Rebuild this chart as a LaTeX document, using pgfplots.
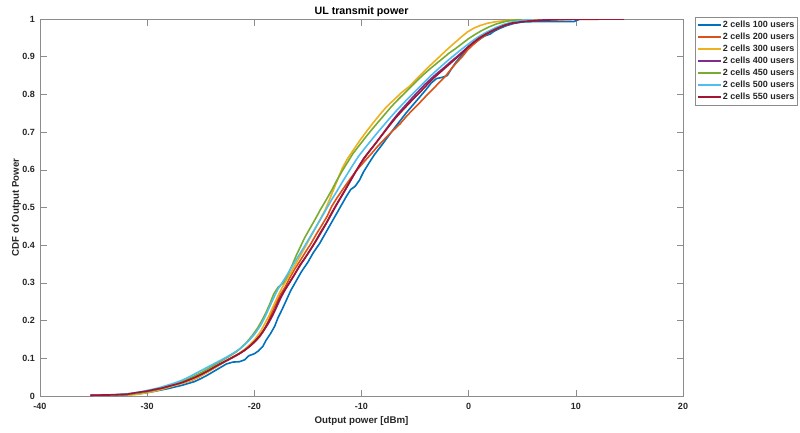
\documentclass[border=0pt]{standalone}
\usepackage{pgfplots}
\pgfplotsset{compat=1.18}
\usepackage{fontspec}
\setmainfont{Liberation Sans}
\definecolor{axgray}{HTML}{8C8C8C}
\definecolor{txt}{HTML}{262626}
\definecolor{c1}{rgb}{0,0.447,0.741}
\definecolor{c2}{rgb}{0.85,0.325,0.098}
\definecolor{c3}{rgb}{0.929,0.694,0.125}
\definecolor{c4}{rgb}{0.494,0.184,0.556}
\definecolor{c5}{rgb}{0.466,0.674,0.188}
\definecolor{c6}{rgb}{0.301,0.745,0.933}
\definecolor{c7}{rgb}{0.635,0.078,0.184}
\begin{document}
\begin{tikzpicture}
\useasboundingbox (-40pt,-36pt) rectangle (760pt,396pt);
\begin{axis}[
  scale only axis, width=643pt, height=377pt,
  xmin=-40, xmax=20, ymin=0, ymax=1,
  xtick={-40,-30,-20,-10,0,10,20},
  xticklabels={-40,-30,-20,-10,0,10,20},
  ytick={0,0.1,0.2,0.3,0.4,0.5,0.6,0.7,0.8,0.9,1},
  yticklabels={0,0.1,0.2,0.3,0.4,0.5,0.6,0.7,0.8,0.9,1},
  tick align=inside, major tick length=6.5pt,
  axis line style={axgray, line width=0.6pt},
  tick style={axgray, line width=0.6pt},
  every tick label/.append style={font=\fontsize{9}{11}\selectfont\bfseries, text=txt},
  xticklabel style={yshift=-4pt},
  yticklabel style={xshift=-1.5pt},
  title={UL transmit power},
  title style={at={(axis description cs:0.5,1)}, anchor=base, yshift=-1.5pt, font=\fontsize{10.7}{12}\selectfont\bfseries},
  xlabel={Output power [dBm]},
  xlabel style={at={(axis description cs:0.5,0)}, anchor=base, yshift=-27.5pt, font=\fontsize{9.7}{11}\selectfont\bfseries, text=txt},
  ylabel={CDF of Output Power},
  ylabel style={at={(axis description cs:-0.0327,0.5)}, anchor=base, font=\fontsize{9.7}{11}\selectfont\bfseries, text=txt},
  legend style={at={(axis description cs:1.0187,1.0053)}, anchor=north west, draw=axgray,
    font=\fontsize{9}{11}\selectfont\bfseries, inner xsep=2pt, inner ysep=2pt, row sep=0pt,
    nodes={inner xsep=1pt, inner ysep=1pt, text height=7pt, text depth=3pt, text=txt}},
  legend cell align=left,
  legend image code/.code={\draw[#1, line width=1.6pt] (0pt,0pt) -- (23pt,0pt);},
  legend image post style={line width=1.6pt},
  every axis plot/.append style={line width=1.6pt, line join=round},
]
\addplot[c1] coordinates {
(-33.0,0.002) (-32.0,0.003) (-31.0,0.005) (-30.2,0.008) (-29.4,0.012) (-28.7,0.016) (-28.0,0.020) (-27.4,0.024) (-26.8,0.028) (-26.2,0.033) (-25.6,0.038) (-25.0,0.046) (-24.4,0.055) (-23.8,0.065) (-23.2,0.075) (-22.6,0.085) (-22.0,0.090) (-21.4,0.091) (-20.9,0.096) (-20.5,0.107) (-20.0,0.112) (-19.6,0.120) (-19.2,0.132) (-18.9,0.148) (-18.5,0.165) (-18.1,0.185) (-17.8,0.207) (-17.4,0.230) (-17.0,0.255) (-16.6,0.280) (-16.1,0.305) (-15.6,0.330) (-15.0,0.355) (-14.5,0.380) (-13.9,0.405) (-13.4,0.430) (-12.9,0.455) (-12.4,0.480) (-11.9,0.505) (-11.4,0.530) (-11.0,0.548) (-10.6,0.556) (-10.2,0.572) (-9.8,0.595) (-9.3,0.618) (-8.8,0.640) (-8.2,0.662) (-7.6,0.685) (-7.0,0.708) (-6.4,0.730) (-5.8,0.752) (-5.2,0.772) (-4.6,0.792) (-4.0,0.812) (-3.5,0.830) (-3.0,0.842) (-2.5,0.845) (-2.0,0.850) (-1.6,0.868) (-1.2,0.885) (-0.7,0.902) (-0.2,0.918) (0.4,0.933) (1.0,0.946) (1.5,0.955) (2.0,0.960) (2.4,0.968) (2.9,0.975) (3.5,0.982) (4.2,0.988) (5.0,0.992) (6.0,0.993) (9.8,0.993) (10.4,1.0)
};
\addlegendentry{2 cells 100 users}
\addplot[c2] coordinates {
(-33.0,0.002) (-31.8,0.004) (-31.0,0.007) (-30.2,0.010) (-29.4,0.014) (-28.6,0.019) (-27.9,0.025) (-27.2,0.031) (-26.5,0.036) (-25.8,0.042) (-25.2,0.050) (-24.6,0.060) (-24.0,0.070) (-23.4,0.080) (-22.8,0.090) (-22.2,0.099) (-21.6,0.109) (-21.0,0.120) (-20.5,0.130) (-20.0,0.142) (-19.5,0.157) (-19.1,0.175) (-18.7,0.198) (-18.4,0.220) (-18.0,0.245) (-17.6,0.268) (-17.1,0.290) (-16.7,0.313) (-16.2,0.338) (-15.7,0.360) (-15.2,0.383) (-14.7,0.405) (-14.2,0.430) (-13.7,0.453) (-13.2,0.477) (-12.8,0.502) (-12.3,0.525) (-11.7,0.550) (-11.1,0.574) (-10.5,0.597) (-9.8,0.620) (-9.1,0.642) (-8.5,0.662) (-7.8,0.683) (-7.1,0.703) (-6.4,0.722) (-5.8,0.742) (-5.2,0.760) (-4.6,0.777) (-4.0,0.795) (-3.4,0.812) (-2.8,0.830) (-2.2,0.847) (-1.7,0.865) (-1.2,0.882) (-0.6,0.900) (-0.1,0.918) (0.5,0.934) (1.1,0.948) (1.7,0.960) (2.3,0.970) (3.0,0.979) (3.7,0.987) (4.5,0.993) (6.0,0.997) (7.0,1.0)
};
\addlegendentry{2 cells 200 users}
\addplot[c3] coordinates {
(-31.8,0.002) (-30.8,0.005) (-30.0,0.009) (-29.3,0.013) (-28.6,0.018) (-27.9,0.024) (-27.2,0.030) (-26.5,0.036) (-25.8,0.043) (-25.1,0.052) (-24.5,0.061) (-23.9,0.071) (-23.3,0.082) (-22.7,0.092) (-22.1,0.102) (-21.5,0.112) (-20.9,0.124) (-20.4,0.137) (-19.9,0.152) (-19.4,0.172) (-19.0,0.193) (-18.6,0.215) (-18.2,0.240) (-17.8,0.265) (-17.4,0.288) (-16.9,0.312) (-16.4,0.337) (-15.9,0.362) (-15.4,0.388) (-14.9,0.414) (-14.4,0.440) (-13.9,0.466) (-13.4,0.493) (-13.0,0.520) (-12.6,0.548) (-12.2,0.576) (-11.8,0.604) (-11.3,0.630) (-10.7,0.655) (-10.1,0.680) (-9.5,0.703) (-8.9,0.725) (-8.3,0.746) (-7.7,0.766) (-7.0,0.785) (-6.3,0.804) (-5.5,0.822) (-4.9,0.840) (-4.3,0.857) (-3.7,0.874) (-3.1,0.890) (-2.5,0.906) (-1.9,0.922) (-1.3,0.937) (-0.7,0.952) (-0.1,0.966) (0.5,0.976) (1.1,0.983) (1.8,0.989) (2.6,0.993) (3.5,0.996) (4.5,0.998) (8.8,0.998) (9.0,1.0)
};
\addlegendentry{2 cells 300 users}
\addplot[c4] coordinates {
(-35.3,0.002) (-33.5,0.003) (-32.0,0.005) (-31.0,0.008) (-30.0,0.012) (-29.0,0.018) (-28.2,0.024) (-27.5,0.030) (-26.8,0.036) (-26.1,0.043) (-25.4,0.052) (-24.8,0.060) (-24.2,0.069) (-23.6,0.079) (-23.0,0.088) (-22.4,0.097) (-21.8,0.106) (-21.2,0.116) (-20.7,0.126) (-20.2,0.138) (-19.7,0.152) (-19.2,0.170) (-18.7,0.192) (-18.3,0.213) (-17.9,0.237) (-17.5,0.262) (-17.1,0.283) (-16.6,0.306) (-16.1,0.329) (-15.6,0.352) (-15.1,0.373) (-14.6,0.395) (-14.1,0.418) (-13.6,0.442) (-13.1,0.467) (-12.6,0.493) (-12.1,0.518) (-11.6,0.542) (-11.1,0.567) (-10.6,0.592) (-10.1,0.616) (-9.5,0.640) (-8.9,0.662) (-8.3,0.685) (-7.7,0.708) (-7.1,0.731) (-6.5,0.752) (-5.9,0.771) (-5.3,0.790) (-4.7,0.808) (-4.1,0.826) (-3.5,0.842) (-2.9,0.857) (-2.3,0.871) (-1.7,0.886) (-1.1,0.900) (-0.5,0.915) (0.1,0.930) (0.7,0.943) (1.3,0.955) (2.0,0.966) (2.7,0.976) (3.4,0.984) (4.2,0.990) (5.5,0.995) (8.0,0.999) (8.2,1.0)
};
\addlegendentry{2 cells 400 users}
\addplot[c5] coordinates {
(-33.5,0.002) (-32.0,0.004) (-31.0,0.007) (-30.2,0.011) (-29.4,0.016) (-28.7,0.021) (-28.0,0.027) (-27.3,0.033) (-26.6,0.040) (-25.9,0.049) (-25.3,0.057) (-24.7,0.066) (-24.1,0.076) (-23.5,0.086) (-22.9,0.096) (-22.3,0.106) (-21.7,0.117) (-21.2,0.129) (-20.7,0.143) (-20.2,0.160) (-19.7,0.180) (-19.3,0.200) (-18.9,0.222) (-18.5,0.248) (-18.2,0.270) (-17.8,0.288) (-17.3,0.300) (-16.9,0.320) (-16.5,0.345) (-16.1,0.372) (-15.7,0.396) (-15.3,0.420) (-14.8,0.445) (-14.3,0.470) (-13.8,0.496) (-13.3,0.520) (-12.8,0.545) (-12.3,0.572) (-11.8,0.597) (-11.3,0.620) (-10.8,0.643) (-10.2,0.665) (-9.6,0.687) (-9.0,0.708) (-8.4,0.728) (-7.8,0.748) (-7.2,0.768) (-6.6,0.786) (-6.0,0.803) (-5.4,0.820) (-4.8,0.837) (-4.2,0.853) (-3.6,0.868) (-3.0,0.882) (-2.4,0.896) (-1.8,0.910) (-1.2,0.922) (-0.6,0.935) (0.0,0.948) (0.6,0.959) (1.2,0.969) (1.9,0.979) (2.6,0.987) (3.5,0.994) (5.0,1.0)
};
\addlegendentry{2 cells 450 users}
\addplot[c6] coordinates {
(-34.0,0.002) (-32.5,0.004) (-31.5,0.007) (-30.6,0.011) (-29.8,0.016) (-29.0,0.021) (-28.3,0.027) (-27.6,0.033) (-26.9,0.040) (-26.2,0.049) (-25.6,0.058) (-25.0,0.067) (-24.4,0.076) (-23.8,0.085) (-23.2,0.094) (-22.6,0.103) (-22.0,0.113) (-21.4,0.124) (-20.9,0.136) (-20.4,0.150) (-19.9,0.167) (-19.4,0.188) (-19.0,0.210) (-18.6,0.235) (-18.2,0.260) (-17.8,0.283) (-17.3,0.305) (-16.8,0.328) (-16.3,0.352) (-15.8,0.375) (-15.3,0.398) (-14.8,0.422) (-14.3,0.446) (-13.8,0.470) (-13.3,0.495) (-12.8,0.520) (-12.3,0.543) (-11.8,0.567) (-11.3,0.590) (-10.8,0.613) (-10.3,0.635) (-9.7,0.657) (-9.1,0.678) (-8.5,0.699) (-7.9,0.719) (-7.3,0.739) (-6.7,0.758) (-6.1,0.776) (-5.5,0.794) (-4.9,0.811) (-4.3,0.828) (-3.7,0.845) (-3.1,0.861) (-2.5,0.876) (-1.9,0.891) (-1.3,0.905) (-0.7,0.919) (-0.1,0.932) (0.5,0.945) (1.1,0.956) (1.8,0.967) (2.5,0.977) (3.3,0.986) (4.2,0.993) (6.0,1.0)
};
\addlegendentry{2 cells 500 users}
\addplot[c7] coordinates {
(-35.3,0.002) (-33.0,0.003) (-31.8,0.005) (-31.0,0.009) (-30.0,0.013) (-29.2,0.018) (-28.6,0.021) (-28.0,0.026) (-27.3,0.031) (-26.7,0.036) (-26.0,0.044) (-25.4,0.051) (-24.9,0.058) (-24.3,0.067) (-23.7,0.077) (-23.2,0.085) (-22.6,0.094) (-22.0,0.103) (-21.4,0.112) (-20.9,0.121) (-20.4,0.133) (-19.9,0.147) (-19.4,0.163) (-18.9,0.185) (-18.5,0.205) (-18.1,0.228) (-17.7,0.255) (-17.3,0.275) (-16.8,0.297) (-16.3,0.320) (-15.8,0.345) (-15.3,0.365) (-14.8,0.387) (-14.3,0.410) (-13.8,0.435) (-13.3,0.458) (-12.8,0.485) (-12.3,0.510) (-11.8,0.534) (-11.3,0.558) (-10.8,0.583) (-10.3,0.607) (-9.8,0.630) (-9.2,0.652) (-8.6,0.673) (-8.0,0.695) (-7.4,0.717) (-6.8,0.738) (-6.2,0.757) (-5.6,0.775) (-5.0,0.793) (-4.4,0.810) (-3.8,0.828) (-3.2,0.845) (-2.6,0.860) (-2.0,0.875) (-1.4,0.890) (-0.8,0.905) (-0.2,0.922) (0.4,0.937) (1.0,0.950) (1.6,0.960) (2.2,0.969) (2.8,0.977) (3.4,0.984) (4.0,0.989) (5.0,0.993) (6.5,0.996) (8.0,0.998) (10.0,0.999) (14.5,1.0)
};
\addlegendentry{2 cells 550 users}
\end{axis}
\end{tikzpicture}
\end{document}
